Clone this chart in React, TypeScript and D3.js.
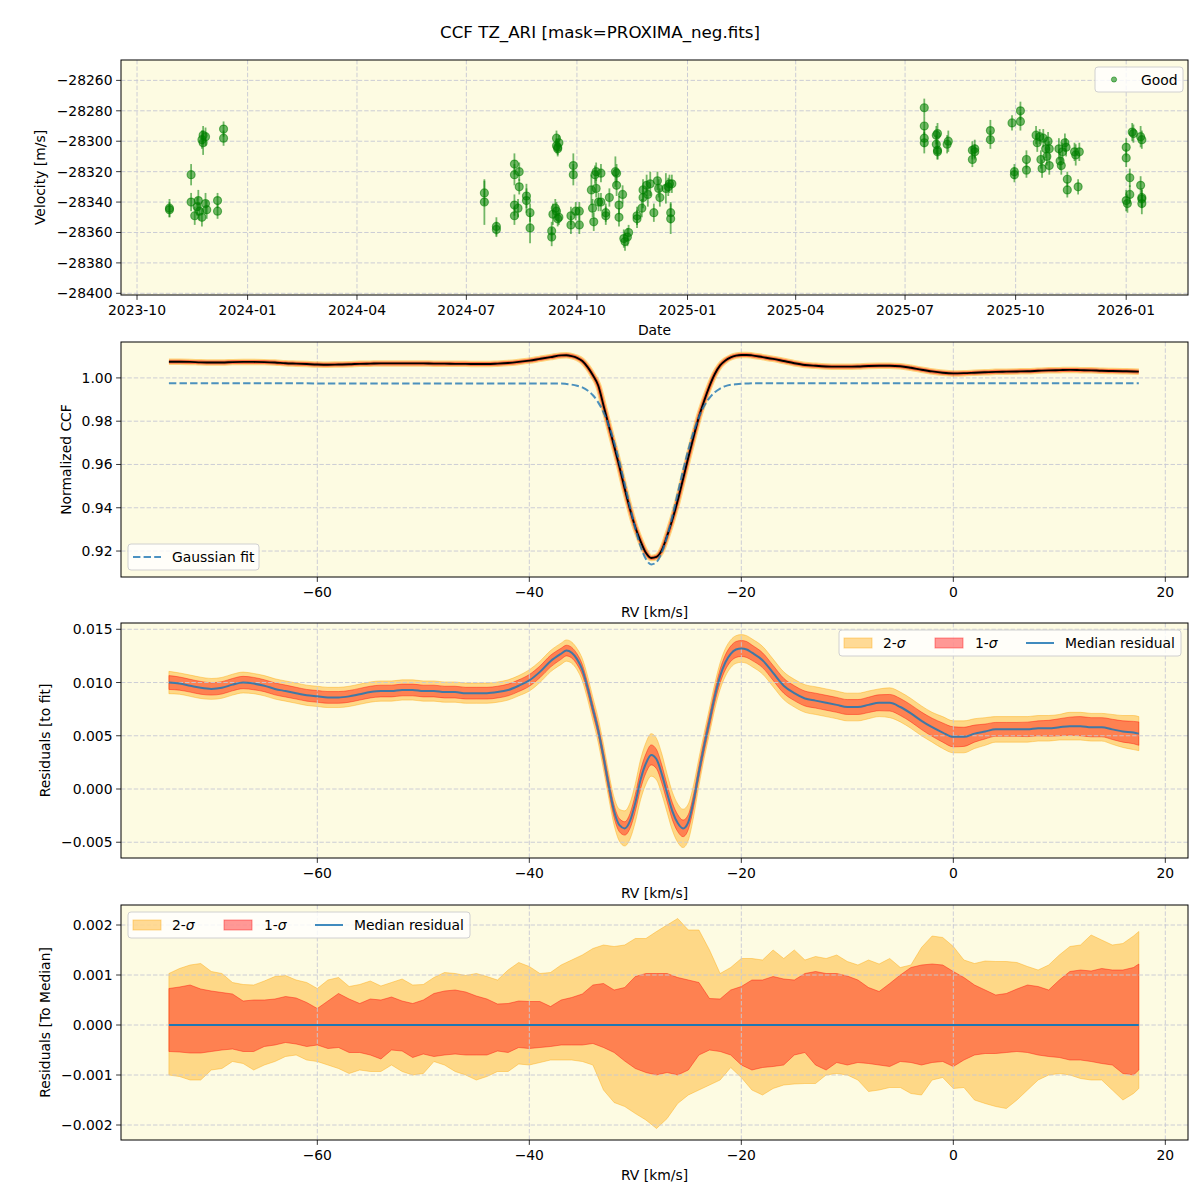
import React from "react";
import * as d3 from "d3";

// ---------- RV time series (good points) ----------
const obsDates = [
  "2023-10-28", "2023-10-28", "2023-11-15", "2023-11-15", "2023-11-18", "2023-11-20", "2023-11-21", "2023-11-22",
  "2023-11-24", "2023-11-24", "2023-11-25", "2023-11-25", "2023-11-27", "2023-11-27", "2023-11-28", "2023-12-07",
  "2023-12-07", "2023-12-12", "2023-12-12", "2024-07-16", "2024-07-16", "2024-07-26", "2024-07-26", "2024-08-10",
  "2024-08-10", "2024-08-10", "2024-08-10", "2024-08-13", "2024-08-14", "2024-08-14", "2024-08-20", "2024-08-20",
  "2024-08-23", "2024-08-23", "2024-09-10", "2024-09-10", "2024-09-11", "2024-09-13", "2024-09-14", "2024-09-14",
  "2024-09-14", "2024-09-15", "2024-09-15", "2024-09-15", "2024-09-16", "2024-09-16", "2024-09-26", "2024-09-26",
  "2024-09-28", "2024-09-28", "2024-09-30", "2024-10-03", "2024-10-03", "2024-10-13", "2024-10-14", "2024-10-15",
  "2024-10-16", "2024-10-17", "2024-10-17", "2024-10-19", "2024-10-21", "2024-10-21", "2024-10-25", "2024-10-25",
  "2024-10-28", "2024-11-02", "2024-11-03", "2024-11-03", "2024-11-05", "2024-11-05", "2024-11-08", "2024-11-09",
  "2024-11-10", "2024-11-12", "2024-11-13", "2024-11-20", "2024-11-20", "2024-11-24", "2024-11-25", "2024-11-25",
  "2024-11-28", "2024-11-29", "2024-12-01", "2024-12-04", "2024-12-07", "2024-12-08", "2024-12-09", "2024-12-14",
  "2024-12-16", "2024-12-17", "2024-12-19", "2024-12-18", "2024-12-18", "2025-07-17", "2025-07-17", "2025-07-17",
  "2025-07-17", "2025-07-27", "2025-07-27", "2025-07-28", "2025-07-28", "2025-07-28", "2025-08-06", "2025-08-05",
  "2025-08-26", "2025-08-26", "2025-08-28", "2025-08-28", "2025-09-10", "2025-09-10", "2025-09-28", "2025-09-30",
  "2025-09-30", "2025-10-05", "2025-10-05", "2025-10-10", "2025-10-10", "2025-10-18", "2025-10-19", "2025-10-21",
  "2025-10-22", "2025-10-23", "2025-10-24", "2025-10-26", "2025-10-27", "2025-10-28", "2025-10-29", "2025-10-29",
  "2025-11-06", "2025-11-07", "2025-11-08", "2025-11-09", "2025-11-11", "2025-11-12", "2025-11-13", "2025-11-13",
  "2025-11-19", "2025-11-20", "2025-11-22", "2025-11-23", "2026-01-01", "2026-01-01", "2026-01-01", "2026-01-02",
  "2026-01-04", "2026-01-04", "2026-01-06", "2026-01-07", "2026-01-13", "2026-01-13", "2026-01-14", "2026-01-14",
  "2026-01-14", "2026-01-14",
];
const obsVel = [
  -28344, -28345, -28322, -28340, -28349, -28343, -28339, -28346, -28350, -28299, -28301, -28296, -28297, -28341,
  -28345, -28339, -28346, -28292, -28298, -28334, -28340, -28356, -28358, -28315, -28322, -28342, -28349, -28344,
  -28320, -28330, -28336, -28339, -28347, -28357, -28359, -28363, -28348, -28344, -28346, -28298, -28303, -28351,
  -28305, -28304, -28350, -28301, -28349, -28355, -28316, -28322, -28346, -28346, -28355, -28332, -28344, -28353,
  -28322, -28320, -28331, -28340, -28321, -28340, -28349, -28347, -28337, -28320, -28329, -28321, -28342, -28350,
  -28335, -28364, -28366, -28363, -28360, -28351, -28349, -28344, -28337, -28332, -28329, -28335, -28328, -28347,
  -28326, -28331, -28337, -28331, -28330, -28328, -28328, -28347, -28351, -28278, -28290, -28298, -28301, -28296,
  -28302, -28295, -28306, -28307, -28300, -28302, -28306, -28312, -28305, -28307, -28293, -28299, -28288, -28320,
  -28322, -28280, -28287, -28312, -28319, -28296, -28301, -28297, -28312, -28318, -28298, -28305, -28310, -28300,
  -28316, -28305, -28305, -28313, -28316, -28307, -28301, -28304, -28325, -28332, -28307, -28309, -28330, -28307,
  -28304, -28311, -28339, -28341, -28324, -28335, -28294, -28295, -28297, -28329, -28299, -28337, -28341, -28338,
];
const obsErr = [
  6, 5, 7, 6, 6, 6, 7, 6, 6, 6, 8, 6, 6, 7, 6, 5, 5, 5, 5, 8, 15, 6, 5, 7, 7, 7, 6, 6, 6, 5, 8, 8, 6, 10, 6, 6, 7,
  6, 6, 5, 5, 5, 5, 5, 5, 5, 6, 6, 8, 7, 6, 6, 6, 10, 6, 6, 6, 6, 6, 6, 6, 6, 6, 6, 6, 10, 7, 6, 6, 6, 6, 6, 6, 6,
  5, 6, 6, 6, 7, 7, 7, 8, 8, 6, 6, 6, 6, 10, 6, 6, 6, 7, 10, 6, 6, 6, 7, 6, 6, 7, 6, 5, 7, 6, 6, 5, 6, 5, 7, 6, 5,
  5, 5, 6, 6, 6, 5, 6, 6, 5, 6, 6, 6, 6, 6, 6, 6, 5, 7, 6, 6, 6, 6, 6, 5, 5, 6, 7, 5, 6, 6, 6, 7, 6, 6, 6, 6, 6,
  7, 6, 6, 6, 7, 6,
];
const velTicks = [-28400, -28380, -28360, -28340, -28320, -28300, -28280, -28260];

// ---------- CCF profile ----------
const rvFine = [...d3.range(-74, -37, 1), ...d3.range(-37, -19, 0.5), ...d3.range(-19, 18, 1), 17.5];
const ccfValues = [
  1.0075, 1.0075, 1.0074, 1.0072, 1.0071, 1.0071, 1.0073, 1.0074, 1.0074, 1.0073, 1.0071, 1.0068, 1.0066, 1.0064,
  1.0062, 1.0061, 1.0062, 1.0063, 1.0065, 1.0066, 1.0067, 1.0067, 1.0067, 1.0067, 1.0067, 1.0066, 1.0066, 1.0065,
  1.0065, 1.0064, 1.0064, 1.0066, 1.0069, 1.0074, 1.008, 1.0088, 1.0096,
  1.0104, 1.0105, 1.0101, 1.0093, 1.0078, 1.005, 1.0012, 0.9965, 0.9873, 0.9778, 0.9685, 0.959, 0.9488, 0.9393,
  0.931, 0.9245, 0.9192, 0.9168, 0.9173, 0.9204, 0.927, 0.9346, 0.9433, 0.9532, 0.9632, 0.9728, 0.982, 0.9895,
  0.9962, 1.0018, 1.0058, 1.0081, 1.0095, 1.0103, 1.0106, 1.0106,
  1.0104, 1.0096, 1.0088, 1.0078, 1.0068, 1.006, 1.0056, 1.0053, 1.0052, 1.0052, 1.0053, 1.0055, 1.0056, 1.0056,
  1.0054, 1.0047, 1.0038, 1.003, 1.0024, 1.0021, 1.0022, 1.0024, 1.0026, 1.0028, 1.0029, 1.003, 1.0031, 1.0033,
  1.0035, 1.0036, 1.0037, 1.0036, 1.0035, 1.0033, 1.0032, 1.0031, 1.003, 1.0029,
];
const rvFit = [-74, ...d3.range(-37, -19, 0.5), -19, 17.5];
const gaussFit = [
  0.9975, 0.9974, 0.9972, 0.9969, 0.9964, 0.9956, 0.9942, 0.992, 0.9887, 0.9841, 0.978, 0.9703, 0.9611, 0.9509,
  0.9404, 0.9304, 0.9221, 0.9163, 0.9138, 0.9149, 0.9194, 0.9268, 0.9362, 0.9467, 0.9571, 0.9668, 0.9751, 0.9819,
  0.9871, 0.9908, 0.9934, 0.9951, 0.9962, 0.9968, 0.9971, 0.9973, 0.9974, 0.9975, 0.9975,
];
const ccfTicks = [0.92, 0.94, 0.96, 0.98, 1.0];

// ---------- residuals to the fit ----------
const residMedian = [
  0.01, 0.0099, 0.0097, 0.0095, 0.0094, 0.0095, 0.0098, 0.01, 0.0099, 0.0097, 0.0094, 0.0092, 0.009, 0.0088,
  0.0087, 0.0086, 0.0086, 0.0087, 0.0089, 0.0091, 0.0092, 0.0092, 0.0093, 0.0093, 0.0092, 0.0092, 0.0091, 0.0091,
  0.009, 0.009, 0.009, 0.0091, 0.0093, 0.0097, 0.0102, 0.011, 0.012,
  0.0127, 0.013, 0.0128, 0.0122, 0.0112, 0.0095, 0.0075, 0.0055, 0.003, 0.0003, -0.0021, -0.0034, -0.0037, -0.003,
  -0.0013, 0.0009, 0.0024, 0.0032, 0.0028, 0.0014, -0.0004, -0.0021, -0.0032, -0.0037, -0.0031, -0.0011, 0.0016,
  0.0041, 0.0064, 0.0087, 0.0106, 0.0119, 0.0127, 0.0131, 0.0132, 0.0131,
  0.0128, 0.0121, 0.0109, 0.0097, 0.009, 0.0085, 0.0083, 0.0081, 0.0079, 0.0077, 0.0077, 0.0079, 0.0081, 0.0081,
  0.0077, 0.0071, 0.0064, 0.0058, 0.0053, 0.0049, 0.0049, 0.0052, 0.0054, 0.0056, 0.0056, 0.0056, 0.0056, 0.0057,
  0.0057, 0.0058, 0.0059, 0.0059, 0.0058, 0.0058, 0.0056, 0.0054, 0.0053, 0.0052,
];
const residSig1 = [
  0.00065, 0.00062, 0.0006, 0.0006, 0.00058, 0.00058, 0.00058, 0.00058, 0.00058, 0.00056, 0.00056, 0.00056,
  0.00055, 0.00055, 0.00055, 0.00055, 0.00055, 0.00055, 0.00055, 0.00055, 0.00055, 0.00055, 0.00055, 0.00055,
  0.00055, 0.00055, 0.00055, 0.00055, 0.00055, 0.00055, 0.00055, 0.00055, 0.00055, 0.00055, 0.00055, 0.00055, 0.00055,
  0.00052, 0.0005, 0.0005, 0.0005, 0.0005, 0.0005, 0.0005, 0.0005, 0.00055, 0.0006, 0.0006, 0.00062, 0.00063, 0.0007,
  0.0008, 0.00088, 0.0009, 0.00094, 0.0009, 0.00085, 0.0008, 0.0008, 0.0008, 0.00078, 0.0007, 0.00065, 0.0006,
  0.0006, 0.0006, 0.0006, 0.00065, 0.0007, 0.00072, 0.00075, 0.00075, 0.00075,
  0.00072, 0.0007, 0.0007, 0.0007, 0.0007, 0.0007, 0.0007, 0.0007, 0.0007, 0.0007, 0.0007, 0.00072, 0.00075,
  0.00078, 0.0008, 0.0008, 0.00082, 0.00085, 0.0009, 0.00094, 0.0009, 0.0008, 0.0007, 0.00065, 0.00065, 0.00065,
  0.00068, 0.0007, 0.00075, 0.0008, 0.00085, 0.0009, 0.0009, 0.0009, 0.00095, 0.001, 0.00105, 0.0011,
];
const residSig2 = [
  0.00105, 0.001, 0.001, 0.001, 0.00098, 0.00098, 0.00098, 0.00098, 0.00095, 0.00095, 0.00095, 0.00095, 0.00095,
  0.00095, 0.00095, 0.00095, 0.00095, 0.00095, 0.00095, 0.00095, 0.00095, 0.00095, 0.00095, 0.00095, 0.00095,
  0.00095, 0.00095, 0.00095, 0.00095, 0.00095, 0.00095, 0.00095, 0.00095, 0.00095, 0.001, 0.001, 0.001,
  0.001, 0.001, 0.001, 0.001, 0.00105, 0.0011, 0.0011, 0.00115, 0.0012, 0.0012, 0.0013, 0.0015, 0.00165, 0.0017,
  0.0018, 0.0019, 0.00195, 0.002, 0.00195, 0.0019, 0.0018, 0.0018, 0.0018, 0.0018, 0.0017, 0.0015, 0.0013, 0.0012,
  0.0012, 0.0012, 0.00125, 0.0013, 0.0013, 0.0013, 0.0013, 0.0013,
  0.0013, 0.0013, 0.0013, 0.0013, 0.0013, 0.0013, 0.0013, 0.0013, 0.0013, 0.0013, 0.0013, 0.0013, 0.0013, 0.0014,
  0.0014, 0.0014, 0.0014, 0.0014, 0.0015, 0.0015, 0.0015, 0.0014, 0.0013, 0.0012, 0.0012, 0.0012, 0.0012, 0.0012,
  0.0012, 0.0012, 0.0013, 0.0013, 0.0013, 0.0013, 0.0014, 0.0015, 0.0016, 0.0016,
];
const residTicks = [-0.005, 0, 0.005, 0.01, 0.015];

// ---------- residuals to the median ----------
const rvCoarse = [...d3.range(-74, 18, 1), 17.5];
const medUpper2 = [
  0.00103, 0.00113, 0.0012, 0.00123, 0.00107, 0.00103, 0.00085, 0.00081, 0.0008, 0.00088, 0.00097, 0.00099, 0.0009,
  0.00085, 0.00073, 0.0009, 0.00095, 0.00077, 0.00081, 0.00088, 0.00078, 0.00085, 0.00092, 0.0008, 0.00081, 0.00095,
  0.00105, 0.00103, 0.00099, 0.00103, 0.00097, 0.0009,
  0.0011, 0.00125, 0.00117, 0.00103, 0.00105, 0.0012, 0.0013, 0.0014, 0.00153, 0.0016, 0.00157, 0.0016, 0.00173,
  0.00173, 0.00187, 0.002, 0.00213, 0.0019, 0.0019, 0.0015, 0.00103, 0.00115, 0.00133, 0.00133, 0.0013, 0.0015,
  0.00133, 0.0015, 0.0013, 0.00137, 0.00133, 0.0014, 0.00127, 0.0012,
  0.0013, 0.00122, 0.00133, 0.00115, 0.0012, 0.00155, 0.00178, 0.00175, 0.00157, 0.0013, 0.00123, 0.00128, 0.00127,
  0.00127, 0.00125, 0.00117, 0.0011, 0.0012, 0.0014, 0.00157, 0.0016, 0.0018, 0.0017, 0.0016, 0.00163, 0.00178, 0.00187,
];
const medUpper1 = [
  0.00073, 0.00076, 0.0008, 0.00072, 0.00068, 0.00065, 0.00062, 0.00048, 0.0005, 0.0005, 0.00052, 0.00057, 0.00054,
  0.00045, 0.00033, 0.00048, 0.00063, 0.00052, 0.00043, 0.00052, 0.0005, 0.00056, 0.00048, 0.00043, 0.0005, 0.00063,
  0.00068, 0.0007, 0.00066, 0.00058, 0.00052, 0.00042,
  0.00043, 0.00048, 0.00047, 0.00047, 0.00037, 0.0005, 0.00055, 0.00062, 0.0008, 0.00083, 0.0007, 0.00075, 0.00097,
  0.00103, 0.00103, 0.00103, 0.00095, 0.0009, 0.00085, 0.00053, 0.00052, 0.0007, 0.00077, 0.0009, 0.0009, 0.00097,
  0.00092, 0.0009, 0.00103, 0.00107, 0.00103, 0.00103, 0.00098, 0.0009,
  0.00075, 0.00067, 0.00083, 0.001, 0.00115, 0.0012, 0.00122, 0.0012, 0.00107, 0.00095, 0.0008, 0.0007, 0.0006,
  0.00063, 0.00072, 0.0008, 0.00077, 0.0007, 0.0009, 0.00107, 0.0011, 0.00108, 0.00113, 0.0011, 0.0011, 0.00115, 0.00122,
];
const medLower1 = [
  -0.00053, -0.00054, -0.00056, -0.00056, -0.00053, -0.0005, -0.00048, -0.00053, -0.00053, -0.00043, -0.0004,
  -0.00035, -0.00038, -0.00043, -0.0004, -0.00047, -0.00045, -0.00055, -0.00055, -0.0006, -0.00068, -0.0005,
  -0.00052, -0.00065, -0.00058, -0.00063, -0.0006, -0.00058, -0.0006, -0.0006, -0.0006, -0.00052,
  -0.00055, -0.00045, -0.00047, -0.00045, -0.00043, -0.0004, -0.0004, -0.0004, -0.00037, -0.00045, -0.00055,
  -0.00072, -0.00087, -0.00095, -0.001, -0.00095, -0.001, -0.0009, -0.0006, -0.0005, -0.00053, -0.0006, -0.0008,
  -0.0009, -0.00085, -0.00083, -0.0008, -0.0006, -0.00055, -0.0008, -0.0009, -0.00075, -0.0008, -0.00075,
  -0.00077, -0.0008, -0.00083, -0.00073, -0.00075, -0.0008, -0.00075, -0.00073, -0.00083, -0.0007, -0.0006,
  -0.00057, -0.00057, -0.00055, -0.00053, -0.00055, -0.0006, -0.00063, -0.00065, -0.0007, -0.0007, -0.00073,
  -0.00077, -0.0008, -0.00097, -0.001, -0.0009,
];
const medLower2 = [
  -0.001, -0.00103, -0.0011, -0.0011, -0.0009, -0.00087, -0.00073, -0.00077, -0.0009, -0.0008, -0.00073, -0.00063,
  -0.0006, -0.0007, -0.00073, -0.0008, -0.00087, -0.00097, -0.0009, -0.00093, -0.00093, -0.0008, -0.00093, -0.001,
  -0.00097, -0.00073, -0.0008, -0.00093, -0.001, -0.0011, -0.00103, -0.00093,
  -0.00093, -0.00078, -0.0008, -0.00075, -0.0007, -0.0007, -0.0007, -0.00073, -0.0008, -0.0013, -0.00155, -0.00163,
  -0.00177, -0.0019, -0.00207, -0.00187, -0.00157, -0.0014, -0.0013, -0.0012, -0.0011, -0.00085, -0.00105, -0.0013,
  -0.0014, -0.00127, -0.0012, -0.00118, -0.00117, -0.00117, -0.001, -0.00097, -0.001, -0.0011,
  -0.00133, -0.0013, -0.00125, -0.00125, -0.00137, -0.0014, -0.0011, -0.00105, -0.00127, -0.00125, -0.0015,
  -0.00157, -0.00163, -0.00167, -0.0015, -0.0013, -0.0011, -0.001, -0.00097, -0.001, -0.00107, -0.0011, -0.0011,
  -0.0013, -0.0015, -0.00137, -0.00127,
];
const medTicks = [-0.002, -0.001, 0, 0.001, 0.002];
const rvTicks = [-60, -40, -20, 0, 20];

// ---------- layout ----------
const L = 121;
const R = 1188;
const FONT = "DejaVu Sans, Verdana, sans-serif";
const BG = "#fdfbe2";
const GRID = "#c6c7d4";
const C0 = "#1f77b4";

type PanelProps = {
  top: number;
  bottom: number;
  clipId: string;
  xTicks: any[];
  xPos: (v: any) => number;
  xFmt: (v: any) => string;
  yTicks: number[];
  yPos: (v: number) => number;
  yFmt: (v: number) => string;
  xLabel: string;
  yLabel: string;
  yLabelX: number;
  under?: React.ReactNode;
  over?: React.ReactNode;
};

function Panel(p: PanelProps) {
  const w = R - L;
  const h = p.bottom - p.top;
  return (
    <g>
      <defs>
        <clipPath id={p.clipId}>
          <rect x={L} y={p.top} width={w} height={h} />
        </clipPath>
      </defs>
      <rect x={L} y={p.top} width={w} height={h} fill={BG} />
      <g clipPath={`url(#${p.clipId})`}>{p.under}</g>
      {p.xTicks.map((t, i) => (
        <line key={"gx" + i} x1={p.xPos(t)} x2={p.xPos(t)} y1={p.top} y2={p.bottom}
          stroke={GRID} strokeWidth={0.9} strokeDasharray="4.4,2" />
      ))}
      {p.yTicks.map((t, i) => (
        <line key={"gy" + i} x1={L} x2={R} y1={p.yPos(t)} y2={p.yPos(t)}
          stroke={GRID} strokeWidth={0.9} strokeDasharray="4.4,2" />
      ))}
      <g clipPath={`url(#${p.clipId})`}>{p.over}</g>
      <rect x={L} y={p.top} width={w} height={h} fill="none" stroke="#000" strokeWidth={1} />
      {p.xTicks.map((t, i) => (
        <g key={"tx" + i}>
          <line x1={p.xPos(t)} x2={p.xPos(t)} y1={p.bottom} y2={p.bottom + 4.9} stroke="#000" strokeWidth={0.8} />
          <text x={p.xPos(t)} y={p.bottom + 20} textAnchor="middle" fontSize={13.9} fontFamily={FONT}>
            {p.xFmt(t)}
          </text>
        </g>
      ))}
      {p.yTicks.map((t, i) => (
        <g key={"ty" + i}>
          <line x1={L - 4.9} x2={L} y1={p.yPos(t)} y2={p.yPos(t)} stroke="#000" strokeWidth={0.8} />
          <text x={L - 8.5} y={p.yPos(t) + 5} textAnchor="end" fontSize={13.9} fontFamily={FONT}>
            {p.yFmt(t)}
          </text>
        </g>
      ))}
      <text x={(L + R) / 2} y={p.bottom + 40} textAnchor="middle" fontSize={13.9} fontFamily={FONT}>
        {p.xLabel}
      </text>
      <text transform={`translate(${p.yLabelX},${(p.top + p.bottom) / 2}) rotate(-90)`}
        textAnchor="middle" fontSize={13.9} fontFamily={FONT}>
        {p.yLabel}
      </text>
    </g>
  );
}

function SigmaLegend({ x, y }: { x: number; y: number }) {
  // 2-sigma / 1-sigma / median legend box
  const mid = y + 13;
  return (
    <g fontFamily={FONT} fontSize={13.9}>
      <rect x={x} y={y} width={342} height={26} rx={3} fill="#fff" fillOpacity={0.8} stroke="#d0d0d0" />
      <rect x={x + 5} y={mid - 5} width={28} height={10} fill="orange" fillOpacity={0.4}
        stroke="orange" strokeOpacity={0.4} />
      <text x={x + 44} y={mid + 5}>2-<tspan fontStyle="italic">σ</tspan></text>
      <rect x={x + 96} y={mid - 5} width={28} height={10} fill="red" fillOpacity={0.4}
        stroke="red" strokeOpacity={0.4} />
      <text x={x + 136} y={mid + 5}>1-<tspan fontStyle="italic">σ</tspan></text>
      <line x1={x + 187} x2={x + 215} y1={mid} y2={mid} stroke={C0} strokeWidth={2} strokeOpacity={0.85} />
      <text x={x + 226} y={mid + 5}>Median residual</text>
    </g>
  );
}

export default function App() {
  const P = [
    { t: 60, b: 295 },
    { t: 342, b: 577 },
    { t: 623, b: 858 },
    { t: 905, b: 1140 },
  ];
  const parseDay = d3.utcParse("%Y-%m-%d");

  const xDate = d3
    .scaleUtc()
    .domain([new Date(Date.UTC(2023, 8, 17, 16)), new Date(Date.UTC(2026, 1, 21, 10))])
    .range([L, R]);
  const yVel = d3.scaleLinear().domain([-28401.1, -28246.6]).range([P[0].b, P[0].t]);
  const xRv = d3.scaleLinear().domain([-78.52, 22.14]).range([L, R]);
  const yCcf = d3.scaleLinear().domain([0.908, 1.0166]).range([P[1].b, P[1].t]);
  const yRes = d3.scaleLinear().domain([-0.00648, 0.01559]).range([P[2].b, P[2].t]);
  const yMed = d3.scaleLinear().domain([-0.0023, 0.0024]).range([P[3].b, P[3].t]);

  const dateTicks = xDate.ticks(d3.utcMonth.every(3) as any);
  const fmtDate = d3.utcFormat("%Y-%m");
  const fmtInt = d3.format("d");
  const fmt2 = d3.format(".2f");
  const fmt3 = d3.format(".3f");
  const fmtRv = d3.format("d");

  // panel 2 paths
  const ccfLine = d3
    .line<number>()
    .x((_, i) => xRv(rvFine[i]))
    .y((d) => yCcf(d))
    .curve(d3.curveMonotoneX)(ccfValues) as string;
  const fitLine = d3
    .line<number>()
    .x((_, i) => xRv(rvFit[i]))
    .y((d) => yCcf(d))
    .curve(d3.curveMonotoneX)(gaussFit) as string;

  // panel 3 paths
  const resBand = (sig: number[]) =>
    d3
      .area<number>()
      .x((_, i) => xRv(rvFine[i]))
      .y0((d, i) => yRes(d - sig[i]))
      .y1((d, i) => yRes(d + sig[i]))
      .curve(d3.curveMonotoneX)(residMedian) as string;
  const resLine = d3
    .line<number>()
    .x((_, i) => xRv(rvFine[i]))
    .y((d) => yRes(d))
    .curve(d3.curveMonotoneX)(residMedian) as string;

  // panel 4 paths
  const medBand = (lo: number[], hi: number[]) =>
    d3
      .area<number>()
      .x((_, i) => xRv(rvCoarse[i]))
      .y0((d) => yMed(d))
      .y1((_, i) => yMed(hi[i]))(lo) as string;

  const rv0 = rvCoarse[0];
  const rv1 = rvCoarse[rvCoarse.length - 1];

  return (
    <svg width={1200} height={1200} style={{ position: "absolute", left: 0, top: 0, display: "block" }}
      fontFamily={FONT}>
      <rect width={1200} height={1200} fill="#fff" />
      <text x={600} y={38} textAnchor="middle" fontSize={16.7} fontFamily={FONT}>
        CCF TZ_ARI [mask=PROXIMA_neg.fits]
      </text>

      <Panel
        top={P[0].t} bottom={P[0].b} clipId="c1"
        xTicks={dateTicks} xPos={(d) => xDate(d)} xFmt={(d) => fmtDate(d)}
        yTicks={velTicks} yPos={yVel} yFmt={fmtInt}
        xLabel="Date" yLabel="Velocity [m/s]" yLabelX={45}
        over={
          <g>
            {obsVel.map((v, i) => {
              const x = xDate(parseDay(obsDates[i]) as Date);
              return (
                <g key={i}>
                  <line x1={x} x2={x} y1={yVel(v - obsErr[i])} y2={yVel(v + obsErr[i])}
                    stroke="green" strokeOpacity={0.55} strokeWidth={1.8} />
                  <circle cx={x} cy={yVel(v)} r={4} fill="green" fillOpacity={0.55}
                    stroke="green" strokeOpacity={0.55} strokeWidth={1.2} />
                </g>
              );
            })}
          </g>
        }
      />

      <Panel
        top={P[1].t} bottom={P[1].b} clipId="c2"
        xTicks={rvTicks} xPos={xRv} xFmt={fmtRv}
        yTicks={ccfTicks} yPos={yCcf} yFmt={fmt2}
        xLabel="RV [km/s]" yLabel="Normalized CCF" yLabelX={71}
        over={
          <g fill="none">
            <path d={ccfLine} stroke="orange" strokeOpacity={0.45} strokeWidth={6.5} />
            <path d={ccfLine} stroke="red" strokeOpacity={0.45} strokeWidth={4} />
            <path d={ccfLine} stroke="#000" strokeWidth={1.9} />
            <path d={fitLine} stroke={C0} strokeOpacity={0.8} strokeWidth={2} strokeDasharray="7.4,3.2" />
          </g>
        }
      />

      <Panel
        top={P[2].t} bottom={P[2].b} clipId="c3"
        xTicks={rvTicks} xPos={xRv} xFmt={fmtRv}
        yTicks={residTicks} yPos={yRes} yFmt={fmt3}
        xLabel="RV [km/s]" yLabel="Residuals [to fit]" yLabelX={50}
        under={
          <g>
            <path d={resBand(residSig2)} fill="orange" fillOpacity={0.4} stroke="orange" strokeOpacity={0.4} />
            <path d={resBand(residSig1)} fill="red" fillOpacity={0.4} stroke="red" strokeOpacity={0.4} />
          </g>
        }
        over={<path d={resLine} fill="none" stroke={C0} strokeOpacity={0.85} strokeWidth={2} />}
      />

      <Panel
        top={P[3].t} bottom={P[3].b} clipId="c4"
        xTicks={rvTicks} xPos={xRv} xFmt={fmtRv}
        yTicks={medTicks} yPos={yMed} yFmt={fmt3}
        xLabel="RV [km/s]" yLabel="Residuals [To Median]" yLabelX={50}
        under={
          <g>
            <path d={medBand(medLower2, medUpper2)} fill="orange" fillOpacity={0.4}
              stroke="orange" strokeOpacity={0.4} />
            <path d={medBand(medLower1, medUpper1)} fill="red" fillOpacity={0.4}
              stroke="red" strokeOpacity={0.4} />
          </g>
        }
        over={<line x1={xRv(rv0)} x2={xRv(rv1)} y1={yMed(0)} y2={yMed(0)} stroke={C0} strokeWidth={1.8} />}
      />

      {/* legends */}
      <g fontFamily={FONT} fontSize={13.9}>
        <rect x={1095} y={67} width={88} height={25} rx={3} fill="#fff" fillOpacity={0.8} stroke="#d0d0d0" />
        <circle cx={1114} cy={79.5} r={2.6} fill="green" fillOpacity={0.55} stroke="green" strokeOpacity={0.55} />
        <text x={1141} y={84.5}>Good</text>

        <rect x={128} y={544} width={131} height={26} rx={3} fill="#fff" fillOpacity={0.8} stroke="#d0d0d0" />
        <line x1={133} x2={161} y1={557} y2={557} stroke={C0} strokeOpacity={0.8} strokeWidth={2}
          strokeDasharray="7.4,3.2" />
        <text x={172} y={562}>Gaussian fit</text>
      </g>
      <SigmaLegend x={839} y={630} />
      <SigmaLegend x={128} y={912} />
    </svg>
  );
}
